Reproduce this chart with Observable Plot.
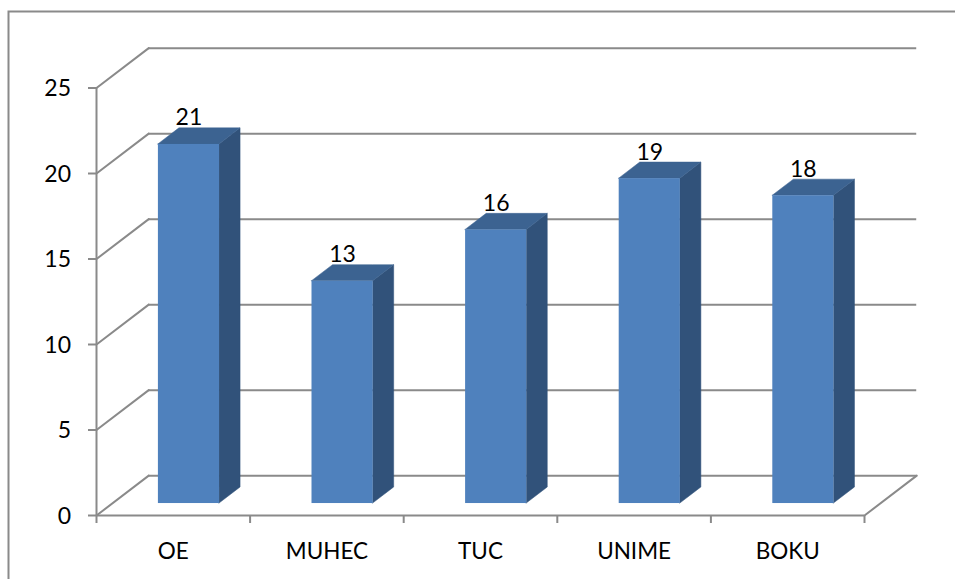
<!DOCTYPE html>
<html>
<head>
<meta charset="utf-8">
<style>html,body{margin:0;padding:0;background:#fff;overflow:hidden}</style>
<script src="https://cdn.jsdelivr.net/npm/d3@7"></script>
<script src="https://cdn.jsdelivr.net/npm/@observablehq/plot@0.6"></script>
</head>
<body>
<div id="chart"></div>
<script>
const categories = ["OE", "MUHEC", "TUC", "UNIME", "BOKU"];
const values = [21, 13, 16, 19, 18];
const yTicks = [0, 5, 10, 15, 20, 25];
const xTicks = [0, 1, 2, 3, 4, 5];

// Oblique projection, in data units (one category across, one count up)
const wallX = 0.34, wallY = 2.33;       // depth of the floor and walls
const barOffX = 0.102, barOffY = 0.70;  // where a bar's front face sits
const barHalf = 0.199;                  // half width of a bar
const barDepthX = 0.137, barDepthY = 0.94;

const lineColor = "#8a8a8a", font = "Lato, Carlito, sans-serif";
const bars = values.map((v, i) => ({
  name: categories[i], v, bar: i,
  l: i + 0.5 + barOffX - barHalf, r: i + 0.5 + barOffX + barHalf,
  b: barOffY, t: v + barOffY
}));
const sideFace = bars.flatMap(d => [
  {bar: d.bar, x: d.r, y1: d.b, y2: d.t},
  {bar: d.bar, x: d.r + barDepthX, y1: d.b + barDepthY, y2: d.t + barDepthY}
]);
const topFace = bars.flatMap(d => [
  {bar: d.bar, x: d.l, y1: d.t, y2: d.t},
  {bar: d.bar, x: d.l + barDepthX, y1: d.t, y2: d.t + barDepthY},
  {bar: d.bar, x: d.r, y1: d.t, y2: d.t + barDepthY},
  {bar: d.bar, x: d.r + barDepthX, y1: d.t + barDepthY, y2: d.t + barDepthY}
]);
const sideLines = yTicks.flatMap(v => [{v, x: 0, y: v}, {v, x: wallX, y: v + wallY}]);
const rearLines = yTicks.map(v => ({x1: wallX, x2: 5 + wallX, y: v + wallY}));
const floorEdge = [{x: 5, y: 0}, {x: 5 + wallX, y: wallY}];

const chart = Plot.plot({
  width: 955, height: 579,
  marginLeft: 96, marginRight: 91, marginTop: 87.5, marginBottom: 64,
  style: {background: "#fff", fontFamily: font},
  x: {domain: [0, 5]},
  y: {domain: [0, 25]},
  marks: [
    Plot.frame({stroke: lineColor, strokeWidth: 2, insetLeft: -88, insetTop: -76.5, insetRight: -200, insetBottom: -200}),
    Plot.ruleY(rearLines, {x1: "x1", x2: "x2", y: "y", stroke: lineColor, strokeWidth: 2}),
    Plot.line(sideLines, {x: "x", y: "y", z: "v", stroke: lineColor, strokeWidth: 2}),
    Plot.line(floorEdge, {x: "x", y: "y", stroke: lineColor, strokeWidth: 2}),
    Plot.ruleX([0], {y1: 0, y2: 25, stroke: lineColor, strokeWidth: 2}),
    Plot.ruleY([0], {x1: 0, x2: 5, stroke: lineColor, strokeWidth: 2}),
    Plot.axisY({ticks: yTicks, tickSize: 8, tickFormat: () => "", label: null, stroke: lineColor, strokeWidth: 2}),
    Plot.axisY({ticks: yTicks, tickSize: 0, tickPadding: 25.5, dy: 1, fontSize: 23, label: null, fill: "#000"}),
    Plot.axisX({ticks: xTicks, tickSize: 8, tickFormat: () => "", label: null, stroke: lineColor, strokeWidth: 2}),
    Plot.axisX({ticks: categories.map((c, i) => i + 0.5), tickSize: 0, tickPadding: 28, tickRotate: 0,
      tickFormat: x => categories[Math.floor(x)], fontSize: 22.5, label: null, fill: "#000"}),
    Plot.area(sideFace, {x1: "x", y1: "y1", y2: "y2", z: "bar", fill: "#31527a", stroke: "#31527a", strokeWidth: 0.5}),
    Plot.area(topFace, {x1: "x", y1: "y1", y2: "y2", z: "bar", fill: "#3c6391", stroke: "#3c6391", strokeWidth: 0.5}),
    Plot.rect(bars, {x1: "l", x2: "r", y1: "b", y2: "t", fill: "#4f81bd"}),
    Plot.text(bars, {x: d => d.bar + 0.5 + barOffX, y: "t", text: d => String(d.v), dy: -19,
      lineAnchor: "bottom", textAnchor: "middle", fontSize: 23, fill: "#000"})
  ]
});
document.getElementById("chart").append(chart);
</script>
</body>
</html>
